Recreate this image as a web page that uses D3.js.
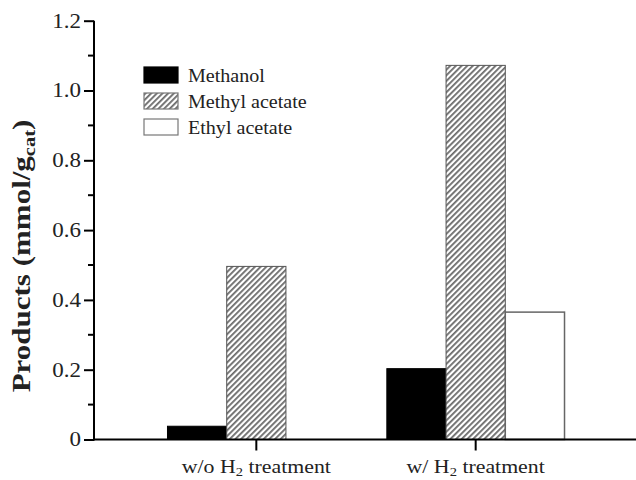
<!DOCTYPE html>
<html><head><meta charset="utf-8">
<script src="https://cdn.jsdelivr.net/npm/d3@7"></script>
<style>body{margin:0;background:#fff} text{font-family:"Liberation Serif","Times New Roman",Times,serif}</style>
</head><body>
<svg id="c" width="636" height="480"></svg>
<script>
const categories = ["w/o", "w/"];
const seriesNames = ["Methanol", "Methyl acetate", "Ethyl acetate"];
const methanol = [0.038, 0.203];
const methylAcetate = [0.496, 1.072];
const ethylAcetate = [0, 0.365];
const yTicks = [0, 0.2, 0.4, 0.6, 0.8, 1.0, 1.2];
const yTickLabels = ["0", "0.2", "0.4", "0.6", "0.8", "1.0", "1.2"];

const svg = d3.select("#c");
const font = "Liberation Serif";
const defs = svg.append("defs");
const pat = defs.append("pattern").attr("id","hatch").attr("patternUnits","userSpaceOnUse")
  .attr("width",4).attr("height",4).attr("patternTransform","rotate(45)");
pat.append("rect").attr("width",4).attr("height",4).attr("fill","#fff");
pat.append("rect").attr("width",1.8).attr("height",4).attr("fill","#6a6a6a");

const x0 = 94, yBase = 439.5, yTop = 20.7;
const y = d3.scaleLinear().domain([0,1.2]).range([yBase, yTop]);
const xb = d3.scaleBand().domain(categories).range([94, 638]).paddingInner(0.19).paddingOuter(0.335);
const xs = d3.scaleBand().domain(seriesNames).range([0, xb.bandwidth()]);

const data = [methanol, methylAcetate, ethylAcetate];
const fills = ["#000", "url(#hatch)", "#fff"];
const strokes = ["#000", "#555", "#666"];

seriesNames.forEach((s, si) => {
  categories.forEach((c, ci) => {
    const v = data[si][ci];
    if (!v) return;
    svg.append("rect")
      .attr("x", xb(c) + xs(s))
      .attr("y", y(v))
      .attr("width", xs.bandwidth())
      .attr("height", yBase - y(v))
      .attr("fill", fills[si])
      .attr("stroke", strokes[si])
      .attr("stroke-width", si===2 ? 1.5 : 1);
  });
});

// Y axis
const ya = svg.append("g").attr("transform", `translate(${x0},0)`)
  .call(d3.axisLeft(y).tickValues(yTicks).tickFormat((d,i)=>yTickLabels[i]).tickSize(10).tickSizeOuter(0));
ya.attr("font-family", font);
ya.select(".domain").attr("stroke-width",2).attr("d", `M0,${yTop}V${yBase+1}`);
ya.selectAll(".tick line").attr("stroke-width",2);
ya.selectAll(".tick text").attr("font-size",20).attr("fill","#222")
  .attr("transform","scale(1.15,1)").attr("x", -13/1.15);
const minor = d3.range(0.1, 1.2, 0.2);
ya.selectAll(".minor").data(minor).enter().append("line")
  .attr("x1",-6).attr("x2",0).attr("y1",d=>y(d)).attr("y2",d=>y(d)).attr("stroke","#000").attr("stroke-width",2);

// X axis
const xa = svg.append("g").attr("transform", `translate(0,${yBase})`)
  .call(d3.axisBottom(xb).tickSize(11).tickSizeOuter(0).tickFormat(""));
xa.select(".domain").attr("stroke-width",2).attr("d", `M${x0-1},0H636`);
xa.selectAll(".tick line").attr("stroke-width",2);

const xl = svg.append("g");
categories.forEach((c) => {
  const cx = xb(c) + xb.bandwidth()/2;
  const t = xl.append("text").attr("transform", `translate(${cx},473) scale(1.12,1)`)
    .attr("text-anchor","middle").attr("font-family",font).attr("font-size",19.5).attr("fill","#222");
  t.append("tspan").text(c + " H");
  t.append("tspan").attr("font-size",13).attr("dy",3).text("2");
  t.append("tspan").attr("dy",-3).text(" treatment");
});

// Y label
const yl = svg.append("text").attr("transform","translate(30,256) rotate(-90) scale(1.24,1)")
  .attr("text-anchor","middle").attr("font-family",font).attr("font-size",25).attr("font-weight","bold").attr("fill","#222");
yl.append("tspan").text("Products (mmol/g");
yl.append("tspan").attr("font-size",16.5).attr("dy",5).text("cat");
yl.append("tspan").attr("dy",-5).text(")");

// Legend
const lg = svg.append("g");
seriesNames.forEach((s, i) => {
  const yy = 67 + i*26;
  lg.append("rect").attr("x",144).attr("y",yy).attr("width",34).attr("height",16)
    .attr("fill",fills[i]).attr("stroke", i===0?"#000":"#777").attr("stroke-width",1.2);
  lg.append("text").attr("transform", `translate(188,${yy+15}) scale(1.03,1)`)
    .attr("font-family",font).attr("font-size",19.5).attr("fill","#222").text(s);
});
</script>
</body></html>
